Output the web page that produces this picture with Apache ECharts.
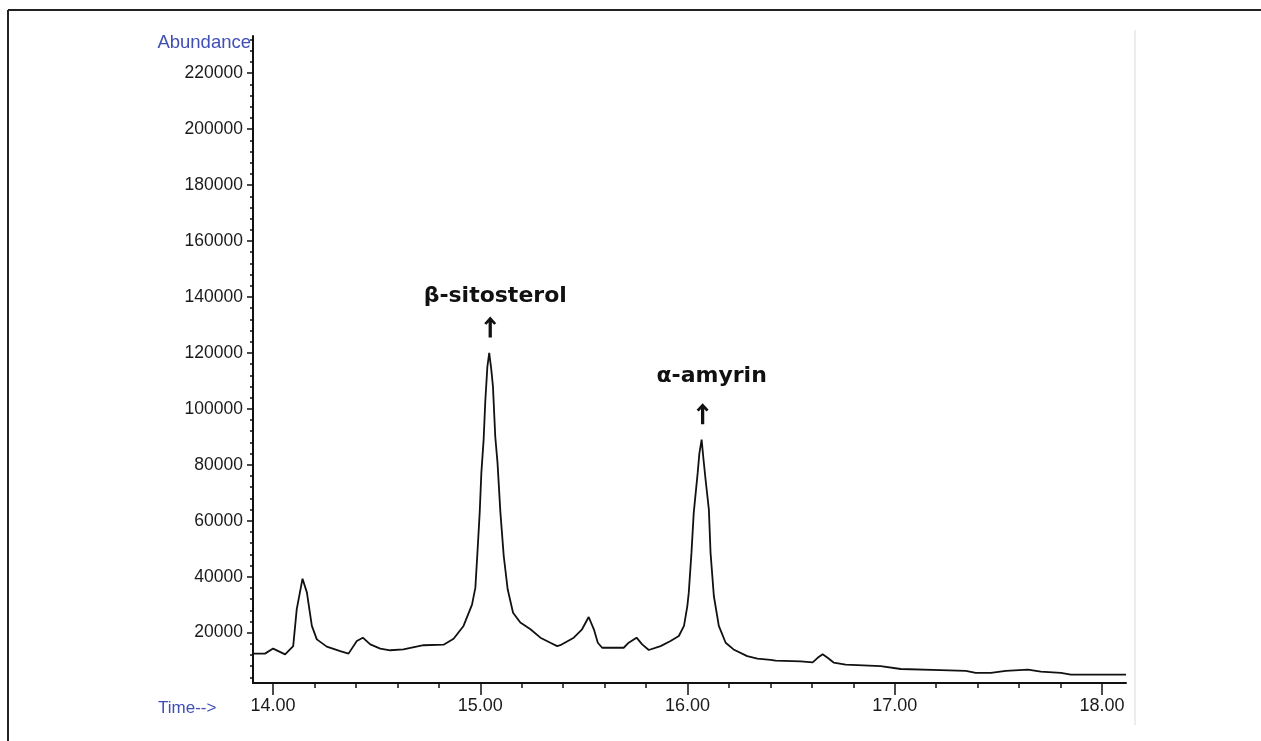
<!DOCTYPE html>
<html><head><meta charset="utf-8">
<script src="https://cdn.jsdelivr.net/npm/echarts@6/dist/echarts.min.js"></script>
<style>html,body{margin:0;padding:0;background:#fff;}#c{width:1261px;height:741px;}</style>
</head><body><div id="c"></div>
<script>
// Retention time (min)
const times = [13.903,13.961,14.000,14.058,14.097,14.114,14.142,14.163,14.187,14.211,14.259,14.324,14.364,14.404,14.433,14.469,14.517,14.565,14.629,14.726,14.823,14.871,14.919,14.960,14.976,14.987,14.997,15.005,15.016,15.024,15.034,15.043,15.053,15.061,15.072,15.083,15.097,15.113,15.132,15.158,15.193,15.242,15.290,15.338,15.371,15.386,15.451,15.491,15.523,15.548,15.567,15.588,15.692,15.716,15.754,15.781,15.813,15.870,15.918,15.958,15.983,15.999,16.006,16.019,16.030,16.049,16.057,16.068,16.077,16.087,16.103,16.111,16.127,16.151,16.184,16.222,16.288,16.337,16.401,16.425,16.546,16.604,16.628,16.652,16.676,16.705,16.763,16.932,17.029,17.222,17.343,17.391,17.464,17.536,17.643,17.705,17.802,17.850,18.116];
// Abundance values
const abundance = [12500,12500,14300,12250,15200,28300,39300,34400,22400,17600,15000,13400,12500,17000,18200,15800,14300,13700,14000,15500,15700,17800,22400,30000,36000,49750,62900,77100,89000,102700,115000,120000,114000,108000,90200,80700,62900,47400,35500,27100,23600,21200,18200,16400,15200,15500,18200,21200,25600,21200,16400,14600,14600,16400,18200,15800,13800,15200,17000,18800,22400,29500,34300,48600,62900,77100,84000,89000,82000,74750,64000,48600,33100,22400,16400,14000,11600,10700,10300,10000,9700,9400,11000,12300,11000,9300,8600,8000,7000,6600,6300,5600,5600,6300,6800,6100,5600,5000,5000];
// Tick labels
const yTickValues = [20000,40000,60000,80000,100000,120000,140000,160000,180000,200000,220000];
const xTickValues = [14,15,16,17,18];
// Peak annotations
const peakNames = ['β-sitosterol','α-amyrin'];
const peakTimes = [15.043,16.068];
const peakValues = [120000,89000];

const yMin = 2000, yMax = 233300, xMin = 13.903, xMax = 18.116;
const yMinor = []; for (let v = 4000; v <= 232000; v += 4000) if (v % 20000 !== 0) yMinor.push(v);
const xMinor = []; for (let i = 70; i <= 90; i++) if (i % 5 !== 0) xMinor.push(i / 5);

const seriesData = times.map((t, i) => [t, abundance[i]]);
const txtFont = "'Liberation Sans', Arial, sans-serif";
const arrowPath = 'path://M5.5,0 L11,6.4 L9,8 L7,5.6 L7,20 L4,20 L4,5.6 L2,8 L0,6.4 Z';
const textOffsets = [[6,-57],[10,-63]];
const markData = [];
peakNames.forEach((n, i) => {
  markData.push({coord:[peakTimes[i], peakValues[i]], symbol:'circle', symbolSize:0,
    label:{show:true, position:'inside', formatter:n, offset:textOffsets[i], fontSize:22, fontWeight:'bold', fontFamily:"'DejaVu Sans', sans-serif", color:'#111'}});
  markData.push({coord:[peakTimes[i], peakValues[i]], symbol:arrowPath, symbolSize:[12,21], symbolKeepAspect:false,
    symbolOffset:[1,-26], itemStyle:{color:'#111'}, label:{show:false}});
});

const chart = echarts.init(document.getElementById('c'), null, {renderer:'canvas'});
chart.setOption({
  animation:false,
  backgroundColor:'#fff',
  grid:{left:253, top:36, width:873, height:647},
  xAxis:[
    {type:'value', min:xMin, max:xMax, position:'bottom',
     axisLine:{show:true, lineStyle:{color:'#111', width:2}},
     axisTick:{show:true, length:12, customValues:xTickValues, lineStyle:{color:'#111', width:1.5}},
     axisLabel:{show:true, customValues:xTickValues, margin:14, fontSize:18, fontFamily:txtFont, color:'#1a1a1a', formatter:v=>v.toFixed(2)},
     splitLine:{show:false}},
    {type:'value', min:xMin, max:xMax, position:'bottom',
     axisLine:{show:false},
     axisTick:{show:true, length:5, customValues:xMinor, lineStyle:{color:'#111', width:1.5}},
     axisLabel:{show:false}, splitLine:{show:false}}
  ],
  yAxis:[
    {type:'value', min:yMin, max:yMax, position:'left',
     axisLine:{show:true, lineStyle:{color:'#111', width:2}},
     axisTick:{show:true, length:6, customValues:yTickValues, lineStyle:{color:'#111', width:1.5}},
     axisLabel:{show:true, customValues:yTickValues, margin:10, fontSize:17.5, fontFamily:txtFont, color:'#1a1a1a', formatter:v=>String(v)},
     splitLine:{show:false}},
    {type:'value', min:yMin, max:yMax, position:'left',
     axisLine:{show:false},
     axisTick:{show:true, length:3, customValues:yMinor, lineStyle:{color:'#111', width:1.5}},
     axisLabel:{show:false}, splitLine:{show:false}}
  ],
  series:[{
    type:'line', data:seriesData, xAxisIndex:0, yAxisIndex:0,
    showSymbol:false, symbol:'none', smooth:false,
    lineStyle:{color:'#111', width:1.8},
    markPoint:{data:markData, silent:true}
  }],
  graphic:[
    {type:'line', shape:{x1:8, y1:10, x2:1261, y2:10}, style:{stroke:'#222', lineWidth:2}},
    {type:'line', shape:{x1:8, y1:10, x2:8, y2:741}, style:{stroke:'#222', lineWidth:2}},
    {type:'line', shape:{x1:1135, y1:30, x2:1135, y2:725}, style:{stroke:'#e6e6e6', lineWidth:1.5}},
    {type:'text', x:251, y:43, style:{text:'Abundance', align:'right', verticalAlign:'middle', fontSize:18.5, fontFamily:txtFont, fill:'#3f4fb5'}},
    {type:'text', x:158, y:708, style:{text:'Time-->', align:'left', verticalAlign:'middle', fontSize:17, fontFamily:txtFont, fill:'#3f4fb5'}}
  ]
});
</script>
</body></html>
